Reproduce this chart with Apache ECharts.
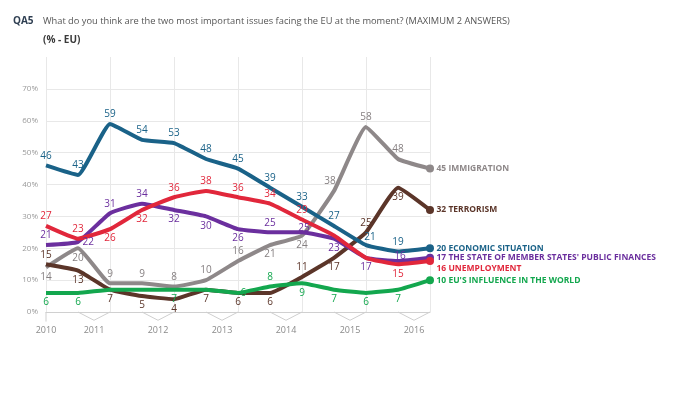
<!DOCTYPE html>
<html>
<head>
    <meta charset="utf-8"/>
    <title>QA5 - most important issues facing the EU</title>
</head>
<body style="margin:0">

<div id="main" style="width: 680px;height:398px;"></div>

<script src="https://cdn.jsdelivr.net/npm/echarts@6/dist/echarts.min.js"></script>
<script>

    // 13 waves, autumn 2010 .. autumn 2016
    var waves = ['EB74', 'EB75', 'EB76', 'EB77', 'EB78', 'EB79', 'EB80', 'EB81', 'EB82', 'EB83', 'EB84', 'EB85', 'EB86'];
    // year label -> wave indexes it covers
    var yearNames = ['2010', '2011', '2012', '2013', '2014', '2015', '2016'];
    var yearWaves = [[0], [1, 2], [3, 4], [5, 6], [7, 8], [9, 10], [11, 12]];

    var immigration = [14, 20, 9, 9, 8, 10, 16, 21, 24, 38, 58, 48, 45];
    var terrorism = [15, 13, 7, 5, 4, 7, 6, 6, 11, 17, 25, 39, 32];
    var economic = [46, 43, 59, 54, 53, 48, 45, 39, 33, 27, 21, 19, 20];
    var finances = [21, 22, 31, 34, 32, 30, 26, 25, 25, 23, 17, 16, 17];
    var unemployment = [27, 23, 26, 32, 36, 38, 36, 34, 29, 24, 17, 15, 16];
    var influence = [6, 6, 7, 7, 7, 7, 6, 8, 9, 7, 6, 7, 10];

    // label placement per point: t = top, b = bottom, r = right, - = none,
    // L = top shifted left, R = top shifted right, o = right on the line,
    // n = top, close to the line
    var lines = [
        {name: 'IMMIGRATION', data: immigration, color: '#8e8889', label: '#857f80', pos: 'bbtttttbbLtt'},
        {name: 'TERRORISM', data: terrorism, color: '#5b3529', label: '#5b3529', pos: 'tbbbbbbbtbtb'},
        {name: 'ECONOMIC SITUATION', data: economic, color: '#1a6288', label: '#1a6288', pos: 'ttttttttttRt'},
        {name: "THE STATE OF MEMBER STATES' PUBLIC FINANCES", data: finances, color: '#6b2f9e', label: '#6b2f9e', pos: 'trttbbbtnbbn'},
        {name: 'UNEMPLOYMENT', data: unemployment, color: '#e1273b', label: '#e1273b', pos: 'ttbbttttt--b', endOffset: [0, 8]},
        {name: "EU'S INFLUENCE IN THE WORLD", data: influence, color: '#13a74e', label: '#13a74e', pos: 'bb--b-otbbbb'}
    ];

    var posMap = {
        t: {position: 'top'},
        b: {position: 'bottom'},
        r: {position: 'right'},
        L: {position: 'top', offset: [-4, 0]},
        R: {position: 'top', offset: [4, 2]},
        o: {position: 'right', offset: [-2, 0]},
        n: {position: 'top', offset: [2, 5]}
    };

    var series = [];

    // the lines themselves
    lines.forEach(function (s) {
        var last = s.data.length - 1;
        series.push({
            name: s.name,
            type: 'line',
            smooth: 0.12,
            z: 3,
            lineStyle: {width: 4, color: s.color},
            itemStyle: {color: s.color},
            symbol: 'circle',
            symbolSize: function (v, p) {
                return p.dataIndex === last ? 8 : 0;
            },
            data: s.data
        });
    });

    // value labels, drawn on top of every line
    lines.forEach(function (s) {
        var last = s.data.length - 1;
        series.push({
            type: 'line',
            silent: true,
            z: 6,
            lineStyle: {width: 0, color: 'rgba(0,0,0,0)'},
            itemStyle: {color: 'rgba(0,0,0,0)', borderWidth: 0},
            symbol: 'circle',
            symbolSize: 1,
            data: s.data.map(function (v, i) {
                if (i === last) {
                    return {
                        value: v,
                        label: {
                            show: true, position: 'right', distance: 6,
                            offset: s.endOffset || [0, 0],
                            color: s.color,
                            fontWeight: 'bold', fontSize: 8.5,
                            formatter: v + ' ' + s.name
                        }
                    };
                }
                var p = s.pos.charAt(i);
                if (p === '-') {
                    return {value: v, label: {show: false}};
                }
                return {value: v, label: echarts.util.extend({show: true}, posMap[p])};
            }),
            label: {
                show: true,
                color: s.label,
                fontSize: 10,
                fontFamily: 'Open Sans',
                distance: 4
            }
        });
    });

    // brackets under the axis grouping the waves of each year
    yearWaves.forEach(function (w) {
        var pts;
        if (w.length === 1) {
            pts = [[w[0], 0], [w[0], -3]];
        } else {
            pts = [[w[0], 0], [(w[0] + w[1]) / 2, -2.6], [w[1], 0]];
        }
        series.push({
            type: 'line',
            xAxisIndex: 1,
            data: pts,
            symbol: 'none',
            silent: true,
            clip: false,
            z: 1,
            lineStyle: {width: 1, color: '#cfcfcf'}
        });
    });

    var yearPos = {};
    yearWaves.forEach(function (w, i) {
        yearPos[(w[0] + w[w.length - 1]) / 2] = yearNames[i];
    });

    var myChart = echarts.init(document.getElementById('main'));

    var option = {
        animation: false,
        textStyle: {fontFamily: 'Open Sans'},
        title: [{
            left: 8,
            top: 7,
            text: '{b|QA5}  {n|What do you think are the two most important issues facing the EU at the moment? (MAXIMUM 2 ANSWERS)}',
            textStyle: {
                rich: {
                    b: {fontSize: 10, fontWeight: 'bold', color: '#2f3f52', fontFamily: 'Open Sans'},
                    n: {fontSize: 9.3, fontWeight: 'normal', color: '#555', fontFamily: 'Open Sans'}
                }
            }
        }, {
            left: 38,
            top: 30,
            text: '(% - EU)',
            textStyle: {fontSize: 10, fontWeight: 'bold', color: '#3a3a3a', fontFamily: 'Open Sans'}
        }],
        grid: {left: 46, right: 250, top: 57, bottom: 86},
        xAxis: [{
            type: 'category',
            data: waves,
            boundaryGap: false,
            axisLine: {lineStyle: {color: '#d0d0d0'}},
            axisTick: {show: false},
            axisLabel: {show: false},
            splitLine: {show: true, lineStyle: {color: '#e8e8e8'}}
        }, {
            type: 'value',
            min: 0,
            max: waves.length - 1,
            interval: 0.5,
            position: 'bottom',
            axisLine: {show: false},
            axisTick: {show: false},
            splitLine: {show: false},
            axisLabel: {
                margin: 14,
                fontSize: 9,
                color: '#8a8a8a',
                formatter: function (v) {
                    return yearPos[v] || '';
                }
            }
        }],
        yAxis: {
            type: 'value',
            min: 0,
            max: 80,
            interval: 10,
            axisLine: {show: false},
            axisTick: {show: false},
            axisLabel: {
                fontSize: 8,
                color: '#9a9a9a',
                margin: 8,
                showMaxLabel: false,
                formatter: '{value}%'
            },
            splitLine: {show: true, showMaxLine: false, lineStyle: {color: '#e8e8e8'}}
        },
        series: series
    };

    myChart.setOption(option);

</script>
</body>
</html>
